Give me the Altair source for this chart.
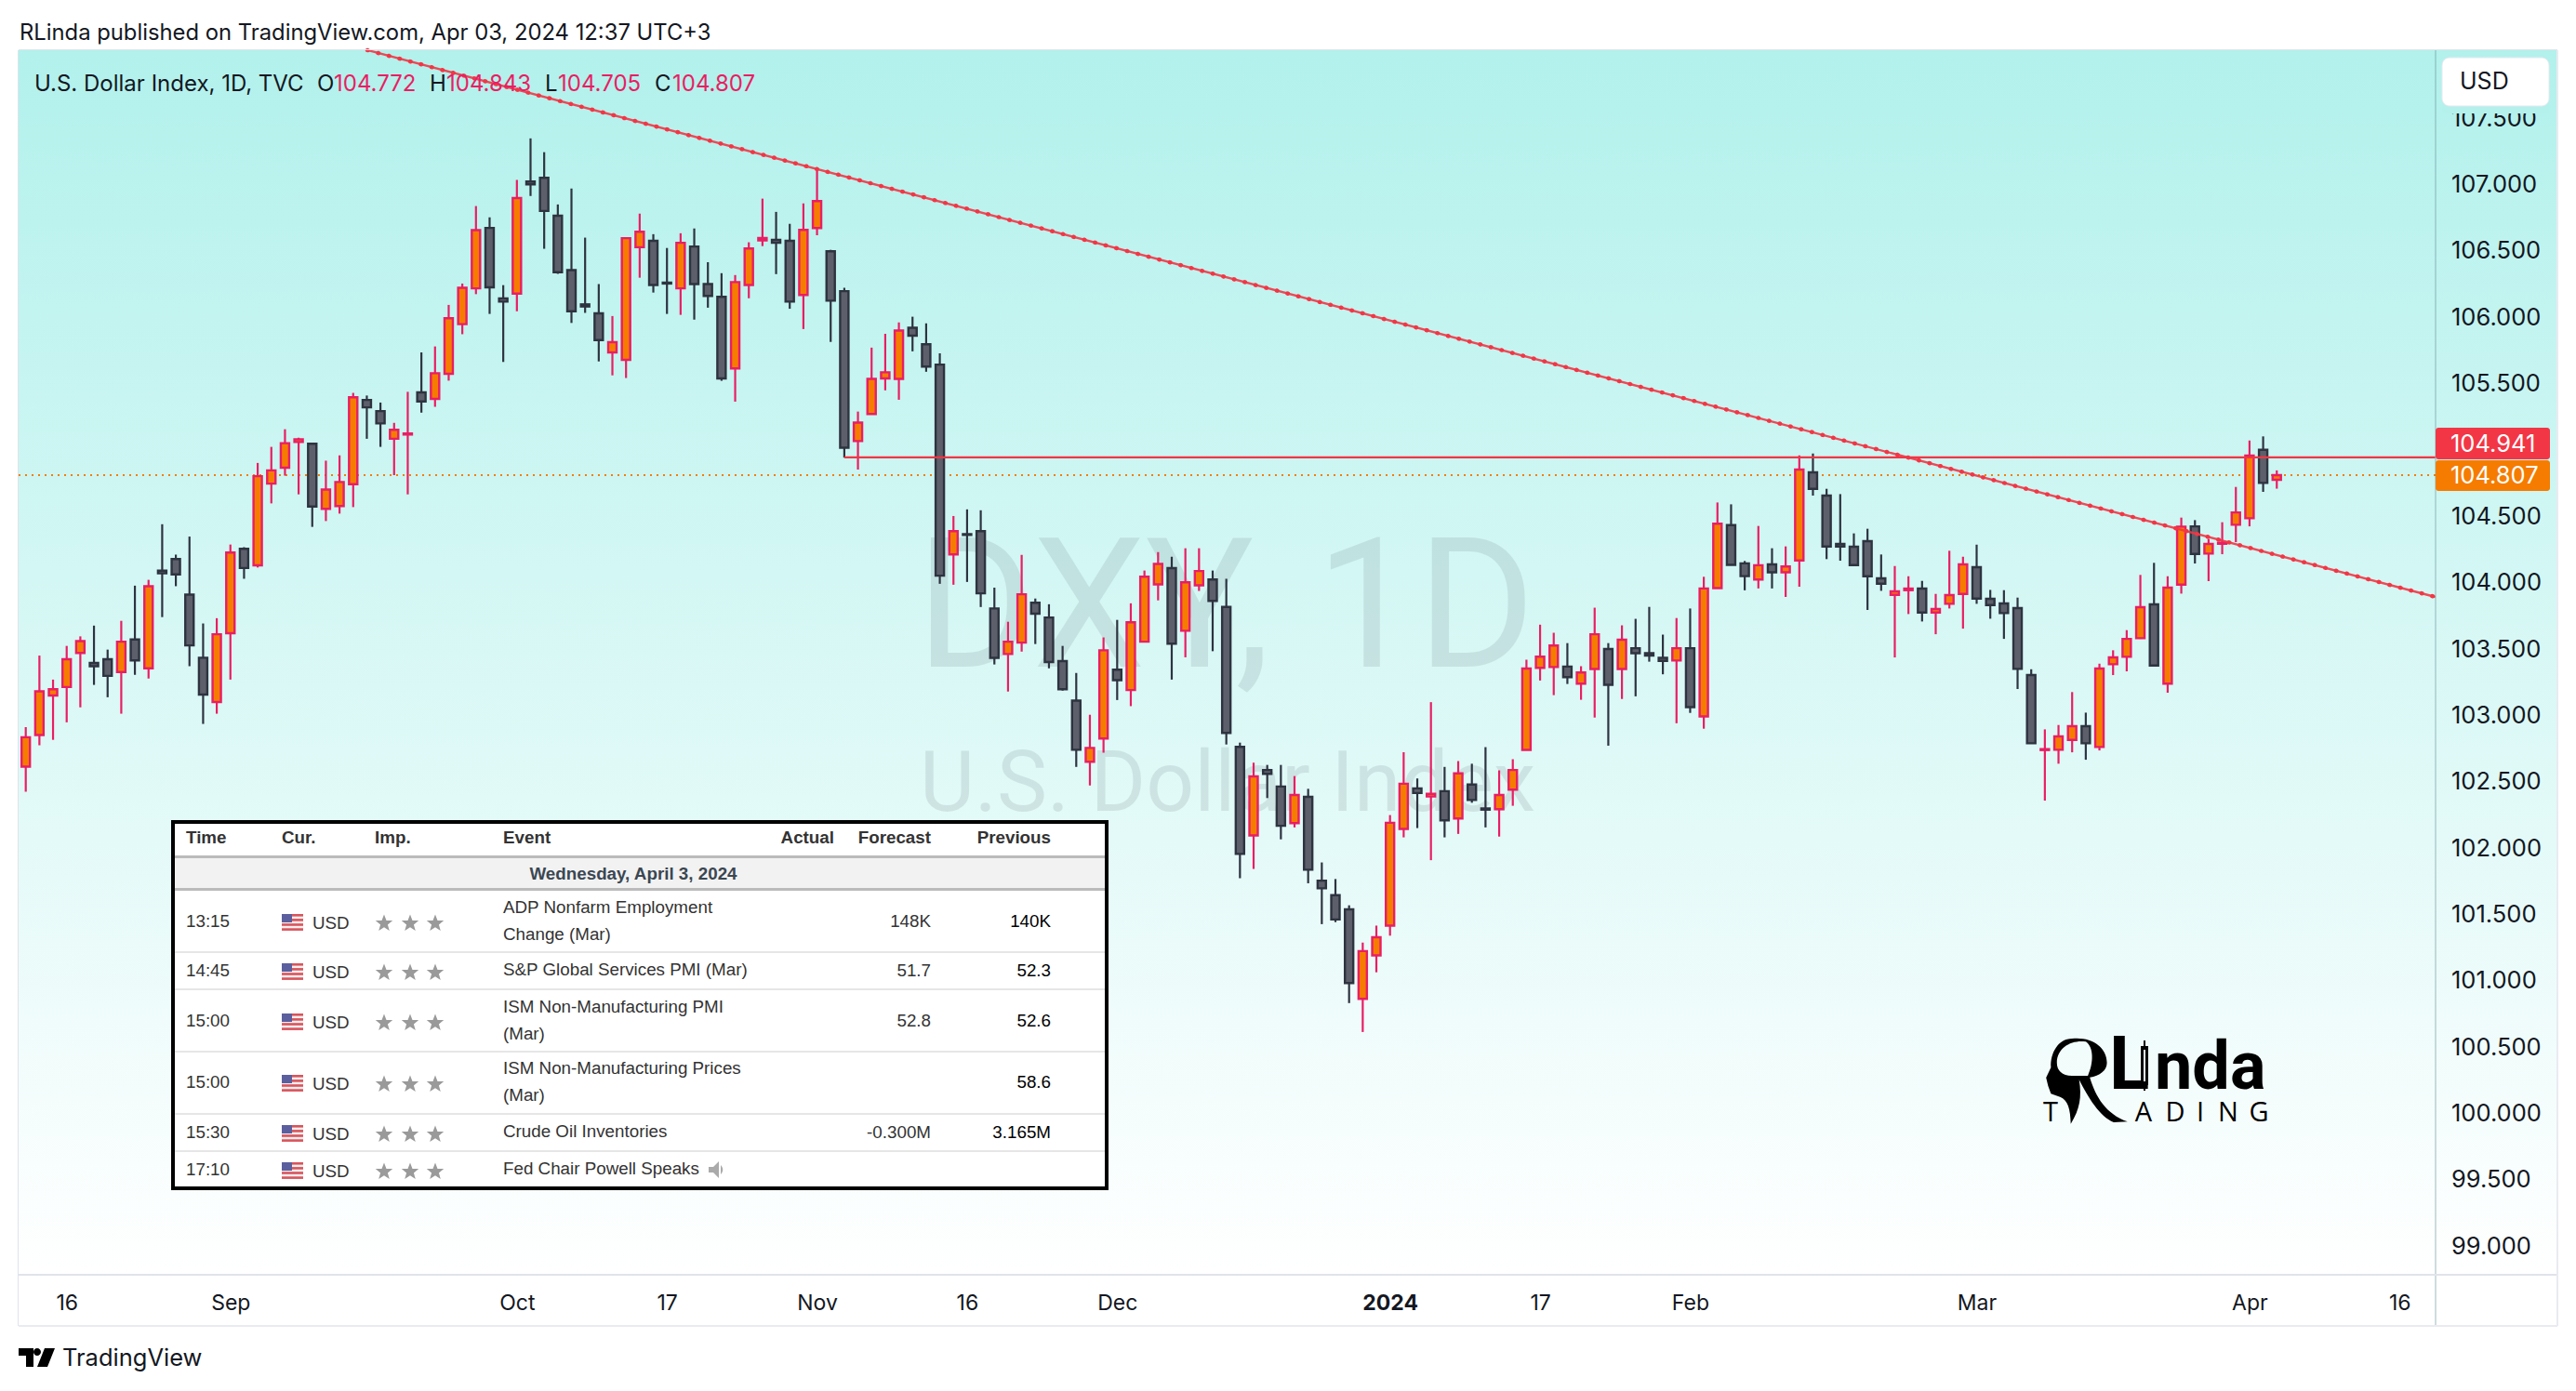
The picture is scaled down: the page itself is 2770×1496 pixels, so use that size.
import altair as alt
import pandas as pd

# ── Daily candles ────────────────────────────────────────────────────────────
opens = [102.610,102.848,103.146,103.210,103.467,103.391,103.419,103.323,103.568,103.351,
         104.087,104.175,103.906,103.431,103.097,103.616,104.252,104.127,104.743,104.863,
         105.057,105.044,104.553,104.574,104.739,105.374,105.290,105.081,105.113,105.431,
         105.382,105.571,105.945,106.215,106.670,106.139,106.175,107.020,107.048,106.762,
         106.352,106.094,106.026,105.732,105.676,106.525,106.573,106.258,106.215,106.530,
         106.247,106.151,105.611,106.240,106.576,106.580,106.573,106.165,106.669,106.494,
         106.194,105.064,105.268,105.536,105.532,105.918,105.793,105.640,104.210,104.363,
         104.385,103.802,103.459,103.545,103.845,103.734,103.405,103.108,102.647,102.822,
         103.341,103.187,103.552,103.984,104.106,103.634,103.977,104.020,103.814,102.759,
         102.091,102.585,102.460,102.184,102.382,101.751,101.641,101.534,100.860,101.188,
         101.412,102.141,102.446,102.385,102.425,102.219,102.475,102.295,102.289,102.437,
         102.736,103.355,103.361,103.364,103.236,103.346,103.497,103.346,103.503,103.465,
         103.430,103.410,103.503,102.989,103.956,104.430,104.142,104.020,104.134,104.075,
         104.164,104.828,104.653,104.288,104.267,104.309,104.029,103.905,103.940,103.952,
         103.772,103.837,103.912,104.113,103.875,103.840,103.805,103.300,102.735,102.737,
         102.812,102.915,102.758,103.382,103.438,103.578,103.833,103.235,103.982,104.421,
         104.216,104.290,104.433,104.482,104.998,104.772]
highs = [102.908,103.447,103.266,103.520,103.592,103.673,103.492,103.709,103.974,104.018,
         104.437,104.208,104.344,103.689,103.729,104.284,104.264,104.899,105.020,105.153,
         105.089,105.048,104.916,104.956,105.427,105.407,105.354,105.201,105.435,105.732,
         105.777,106.090,106.251,106.835,106.750,106.239,107.032,107.345,107.241,106.847,
         106.967,106.597,106.247,106.006,106.593,106.778,106.623,106.519,106.630,106.666,
         106.412,106.329,106.315,106.562,106.891,106.791,106.701,106.855,107.116,106.505,
         106.219,105.286,105.768,105.872,105.958,106.001,105.951,105.725,104.499,104.549,
         104.542,103.959,103.702,104.206,103.877,103.834,103.520,103.316,103.001,103.584,
         103.716,103.841,104.088,104.227,104.192,104.256,104.256,104.088,104.026,102.791,
         102.640,102.623,102.623,102.539,102.443,101.888,101.763,101.565,101.284,101.412,
         102.245,102.719,102.521,103.096,102.608,102.652,102.632,102.757,102.582,102.666,
         103.416,103.680,103.619,103.541,103.367,103.808,103.541,103.675,103.724,103.814,
         103.605,103.730,103.802,104.041,104.601,104.587,104.160,104.424,104.256,104.270,
         104.956,104.970,104.704,104.664,104.368,104.403,104.209,104.122,104.045,104.010,
         103.912,104.237,104.192,104.283,103.942,103.940,103.884,103.344,102.891,102.924,
         103.172,103.017,103.386,103.487,103.639,104.055,104.146,104.045,104.487,104.468,
         104.326,104.452,104.718,105.068,105.099,104.843]
lows = [102.421,102.771,102.812,102.944,103.057,103.226,103.133,103.009,103.302,103.274,
        103.737,103.970,103.367,102.932,103.009,103.266,104.026,104.111,104.594,104.803,
        104.662,104.417,104.461,104.517,104.566,105.081,105.020,104.807,104.662,105.278,
        105.322,105.519,105.869,106.171,106.022,105.660,106.042,106.911,106.513,106.324,
        105.954,106.030,105.664,105.559,105.539,106.295,106.183,106.022,106.015,105.979,
        106.069,105.518,105.361,106.140,106.533,106.322,106.061,105.908,106.615,105.811,
        104.939,104.849,105.268,105.446,105.375,105.740,105.586,103.988,103.981,104.002,
        103.813,103.380,103.176,103.477,103.534,103.351,103.183,102.608,102.468,102.715,
        103.112,103.066,103.548,103.863,103.266,103.434,103.934,103.480,102.777,101.769,
        101.839,102.373,102.062,102.152,101.731,101.423,101.438,100.828,100.610,101.060,
        101.336,102.077,102.147,101.905,102.077,102.103,102.338,102.152,102.083,102.315,
        102.736,103.259,103.149,103.233,103.114,102.980,102.768,103.120,103.140,103.401,
        103.306,102.937,103.015,102.896,103.956,104.131,103.939,103.953,103.953,103.889,
        103.966,104.653,104.174,104.162,104.125,103.791,103.935,103.433,103.760,103.704,
        103.608,103.802,103.650,103.837,103.725,103.573,103.195,102.786,102.354,102.632,
        102.718,102.662,102.732,103.300,103.328,103.573,103.372,103.167,103.914,104.141,
        104.008,104.211,104.302,104.421,104.681,104.705]
closes = [102.832,103.178,103.194,103.419,103.556,103.367,103.294,103.552,103.411,103.970,
          104.067,104.059,103.524,103.153,103.608,104.224,104.107,104.799,104.843,105.048,
          105.077,104.570,104.698,104.755,105.394,105.318,105.197,105.149,105.121,105.362,
          105.575,105.990,106.219,106.654,106.223,106.115,106.895,106.999,106.798,106.336,
          106.042,106.078,105.825,105.809,106.593,106.641,106.240,106.251,106.558,106.247,
          106.158,105.536,106.262,106.515,106.594,106.558,106.115,106.655,106.873,106.122,
          105.014,105.203,105.532,105.582,105.897,105.858,105.625,104.049,104.385,104.356,
          103.916,103.430,103.552,103.909,103.763,103.398,103.194,102.737,102.751,103.487,
          103.262,103.698,104.041,104.138,103.537,103.999,104.084,103.859,102.864,101.952,
          102.536,102.556,102.164,102.396,101.833,101.693,101.458,100.979,101.220,101.324,
          102.187,102.481,102.411,102.405,102.205,102.559,102.359,102.286,102.396,102.585,
          103.349,103.439,103.523,103.285,103.320,103.608,103.227,103.567,103.465,103.448,
          103.407,103.503,103.059,103.953,104.441,104.131,104.046,104.128,104.075,104.119,
          104.849,104.704,104.269,104.269,104.129,104.045,103.989,103.931,103.952,103.772,
          103.798,103.903,104.134,103.877,103.828,103.767,103.347,102.786,102.742,102.838,
          102.915,102.786,103.349,103.433,103.573,103.812,103.372,103.959,104.419,104.213,
          104.288,104.298,104.526,104.954,104.748,104.807]

tick_idx = [3, 15, 36, 47, 58, 69, 80, 100, 111, 122, 143, 163, 174]
tick_labels = ['16', 'Sep', 'Oct', '17', 'Nov', '16', 'Dec', '2024', '17', 'Feb', 'Mar', 'Apr', '16']
# 105.000 sits under the price tags in the reference, so it is not listed
price_ticks = [99.0, 99.5, 100.0, 100.5, 101.0, 101.5, 102.0, 102.5, 103.0, 103.5, 104.0,
               104.5, 105.5, 106.0, 106.5, 107.0, 107.5]

trend_idx = [25.04, 176.62]
trend_price = [108.01, 103.889]
level_idx = [60, 176.62]
level_price = [104.941, 104.941]
last_price = 104.807

# ── Calendar table ───────────────────────────────────────────────────────────
ev_times = ['13:15', '14:45', '15:00', '15:00', '15:30', '17:10']
ev_forecast = ['148K', '51.7', '52.8', '', '-0.300M', '']
ev_previous = ['140K', '52.3', '52.6', '58.6', '3.165M', '']
ev_lines = [['ADP Nonfarm Employment', 'Change (Mar)'], ['S&P Global Services PMI (Mar)'],
            ['ISM Non-Manufacturing PMI', '(Mar)'], ['ISM Non-Manufacturing Prices', '(Mar)'],
            ['Crude Oil Inventories'], ['Fed Chair Powell Speaks']]

# ── Layout, in page pixels ───────────────────────────────────────────────────
PLOT_L, PLOT_R, PLOT_T, PLOT_B = 20, 2619, 54, 1371
SIDE_R, FOOT_B = 2750, 1426
BAR_STEP, BAR_ZERO = 14.67, 27.7
PX_PER_UNIT = 142.7
INK = '#131722'
PINK = '#e91e63'
RED = '#f23645'
ORANGE = '#f57c00'
UI_FONT = 'Inter'


def to_i(x):
    return (x - BAR_ZERO) / BAR_STEP


def to_p(y):
    return last_price - (y - 511) / PX_PER_UNIT


# padding=0: bars on a continuous x would otherwise pull the scale in by 5px per side
x_scale = alt.Scale(domain=[to_i(PLOT_L), to_i(PLOT_R)], nice=False, zero=False, padding=0)
y_scale = alt.Scale(domain=[to_p(PLOT_B), to_p(PLOT_T)], nice=False, zero=False)
labels_js = str(tick_labels)
x_axis = alt.Axis(values=tick_idx, labelExpr=f"{labels_js}[indexof({tick_idx}, datum.value)]",
                  domain=False, ticks=False, grid=False, title=None, labelFont=UI_FONT,
                  labelFontSize=23, labelColor=INK, labelPadding=19, labelOverlap=False,
                  labelFlush=False,
                  labelFontWeight=alt.condition('datum.value == 100', alt.value('bold'), alt.value('normal')))


def xf(name):
    return alt.X(f'{name}:Q', scale=x_scale, axis=x_axis, title=None)


def yf(name):
    return alt.Y(f'{name}:Q', scale=y_scale, axis=None, title=None)


def texts(xs, ys, strings, **style):
    df = pd.DataFrame({'x': [to_i(v) for v in xs], 'y': [to_p(v) for v in ys], 't': strings})
    style.setdefault('baseline', 'middle')
    style.setdefault('align', 'left')
    style.setdefault('font', UI_FONT)
    return alt.Chart(df).mark_text(**style).encode(x=xf('x'), y=yf('y'), text='t:N')


def box(x0, x1, y0, y1, **style):
    df = pd.DataFrame({'x': [to_i(x0)], 'x1': [to_i(x1)], 'y': [to_p(y0)], 'y1': [to_p(y1)]})
    return alt.Chart(df).mark_rect(**style).encode(x=xf('x'), x2='x1:Q', y=yf('y'), y2='y1:Q')


def glyph(x, y, path, size=4, color='black', opacity=1):
    df = pd.DataFrame({'x': [to_i(x)], 'y': [to_p(y)]})
    return alt.Chart(df).mark_point(shape=path, size=size, filled=True, color=color,
                                    opacity=opacity, strokeWidth=0).encode(x=xf('x'), y=yf('y'))


candles = pd.DataFrame({'i': range(len(opens)), 'open': opens, 'high': highs, 'low': lows, 'close': closes})
candles['dir'] = ['up' if c >= o else 'down' for o, c in zip(opens, closes)]
candles['top'] = candles[['open', 'close']].max(axis=1)
candles['bot'] = candles[['open', 'close']].min(axis=1)

dirs = ['up', 'down']
wicks = alt.Chart(candles).mark_rule(strokeWidth=2.2).encode(
    x=xf('i'), y=yf('low'), y2='high:Q',
    color=alt.Color('dir:N', scale=alt.Scale(domain=dirs, range=[PINK, '#2e3340']), legend=None))
bodies = alt.Chart(candles).mark_bar(size=9, strokeWidth=2.4).encode(
    x=xf('i'), y=yf('top'), y2='bot:Q',
    fill=alt.Fill('dir:N', scale=alt.Scale(domain=dirs, range=[ORANGE, '#5d606b']), legend=None),
    stroke=alt.Stroke('dir:N', scale=alt.Scale(domain=dirs, range=[PINK, '#2e3340']), legend=None))

last_df = pd.DataFrame({'x': [to_i(PLOT_L), to_i(PLOT_R)], 'y': [last_price, last_price]})
last_line = alt.Chart(last_df).mark_line(color=ORANGE, strokeWidth=2, strokeDash=[2, 5]).encode(x=xf('x'), y=yf('y'))
level_df = pd.DataFrame({'x': level_idx, 'y': level_price})
level_line = alt.Chart(level_df).mark_line(color=RED, strokeWidth=2.4).encode(x=xf('x'), y=yf('y'))
trend_df = pd.DataFrame({'x': trend_idx, 'y': trend_price})
trend_line = alt.Chart(trend_df).mark_line(color=RED, strokeWidth=2.4, opacity=0.9).encode(x=xf('x'), y=yf('y'))
trend_dots = alt.Chart(trend_df).mark_line(color=RED, strokeWidth=4.5, strokeDash=[0.5, 11.4], strokeCap='round').encode(x=xf('x'), y=yf('y'))

backdrop = box(PLOT_L, SIDE_R, PLOT_T, PLOT_B, color=alt.LinearGradient(
    gradient='linear', x1=0, x2=0, y1=0, y2=1,
    stops=[alt.GradientStop(color='#b2f1ec', offset=0), alt.GradientStop(color='#ffffff', offset=1)]))

layers = [
    backdrop,
    texts([1318], [659], ['DXY, 1D'], fontSize=194, align='center', font='Roboto', color=INK, opacity=0.09),
    texts([1320], [845], ['U.S. Dollar Index'], fontSize=91, align='center', font='Roboto', color=INK, opacity=0.09),
    last_line, wicks, bodies, level_line, trend_line, trend_dots,
]

# ── Calendar table ───────────────────────────────────────────────────────────
T_L, T_R, T_T, T_B = 186, 1190, 884, 1278
row_lines = [1024, 1064, 1131, 1198, 1238]
row_mid = [991, 1044, 1098, 1164, 1218, 1258]
row_text = [[976, 1005], [1043], [1083, 1112], [1149, 1178], [1217], [1257]]

layers.append(box(T_L, T_R, T_T, T_B, color='white'))
layers.append(box(T_L, T_R, 921, 957, color='#f2f2f2'))
layers.append(box(T_L, T_R, 920, 923, color='#bbbbbb'))
layers.append(box(T_L, T_R, 955, 958, color='#bbbbbb'))
for ry in row_lines:
    layers.append(box(T_L, T_R, ry - 1, ry + 1, color='#e6e6e6'))
layers.append(box(T_L, T_R, T_T, T_B, fillOpacity=0, stroke='black', strokeWidth=4))

table_font = dict(font='Liberation Sans', fontSize=18.8)
layers.append(texts([200, 303, 403, 541], [901] * 4, ['Time', 'Cur.', 'Imp.', 'Event'],
                    fontWeight='bold', color='#333333', **table_font))
layers.append(texts([897, 1001, 1130], [901] * 3, ['Actual', 'Forecast', 'Previous'], align='right',
                    fontWeight='bold', color='#333333', **table_font))
layers.append(texts([681], [940], ['Wednesday, April 3, 2024'], align='center', fontWeight='bold',
                    color='#3b4752', **table_font))
layers.append(texts([200] * 6, row_mid, ev_times, color='#333333', **table_font))
layers.append(texts([336] * 6, [v + 2 for v in row_mid], ['USD'] * 6, color='#333333', **table_font))
layers.append(texts([541] * 9, [v for r in row_text for v in r], [s for r in ev_lines for s in r],
                    color='#333333', **table_font))
layers.append(texts([1001] * 6, row_mid, ev_forecast, align='right', color='#333333', **table_font))
layers.append(texts([1130] * 6, row_mid, ev_previous, align='right', color='#000000', **table_font))

STAR = ('M0,-9.5L2.5,-3.1L9.2,-2.9L3.9,1.4L5.8,8L0,4.2L-5.8,8L-3.9,1.4L-9.2,-2.9L-2.5,-3.1Z')
SPEAKER = 'M-8,-3L-3,-3L3,-9L3,9L-3,3L-8,3Z M5,-5C8,-2 8,2 5,5Z'
flag_rows = []
for ry in row_mid:
    fy = ry + 1
    flag_rows.append(dict(x=to_i(303), x1=to_i(326), y=to_p(fy - 9), y1=to_p(fy + 9), c='#f4eeee'))
    for s in range(4):
        sy = fy - 9 + s * 5.1
        flag_rows.append(dict(x=to_i(303), x1=to_i(326), y=to_p(sy), y1=to_p(sy + 2.6), c='#d9545c'))
    flag_rows.append(dict(x=to_i(303), x1=to_i(314), y=to_p(fy - 9), y1=to_p(fy), c='#5b5f9e'))
layers.append(alt.Chart(pd.DataFrame(flag_rows)).mark_rect().encode(
    x=xf('x'), x2='x1:Q', y=yf('y'), y2='y1:Q', color=alt.Color('c:N', scale=None)))
for ry in row_mid:
    for sx in [413, 441, 468]:
        layers.append(glyph(sx, ry + 2, STAR, color='#9a9a9a'))
layers.append(glyph(770, 1258, SPEAKER, color='#aaaaaa'))

# ── RLinda logo ──────────────────────────────────────────────────────────────
HEAD = ('M0,-46C21.4,-48.3 37.6,-36.7 37.6,-20C37.6,-11.7 29.9,-6 19.2,-4.3'
        'C25.6,16.7 36.3,35 59.8,43.3L44.9,44C29.9,38.3 17.1,16.7 7.7,-1.7'
        'C10.7,16.7 8.5,30 -1.3,45.7C-1.7,30 -4.3,20 -12.8,16.7L-22.6,13.3L-25.6,5L-27.8,-4L-22.6,-15'
        'C-23.5,-30 -15,-46 0,-46Z'
        'M15,-42.7C0,-45 -16.2,-36.7 -16.2,-20C-16.2,-11.7 -10.7,-6 0,-6L17.1,-6'
        'C23.5,-20 23.5,-36.7 15,-42.7Z')
layers.append(glyph(2228, 1163, HEAD))
layers.append(texts([2268], [1147], ['L'], fontSize=80, fontWeight='bold', font='Roboto', color='black'))
layers.append(box(2305, 2307, 1119, 1173, color='black'))
layers.append(box(2302, 2310, 1125, 1167, color='black'))
layers.append(box(2305, 2307, 1129, 1163, color='#eefcfb'))
layers.append(texts([2317], [1149], ['nda'], fontSize=72, fontWeight='bold', font='Roboto', color='black'))
layers.append(texts([2205, 2305, 2339, 2366, 2396, 2429], [1197] * 6, list('TADING'), align='center',
                    font='Open Sans', fontSize=29, color='black'))

# ── Price scale ──────────────────────────────────────────────────────────────
price_df = pd.DataFrame({'v': price_ticks, 't': [f'{v:.3f}' for v in price_ticks]})
layers.append(alt.Chart(price_df).mark_text(align='left', baseline='middle', font=UI_FONT, fontSize=25.5, color=INK, dy=1).encode(
    x=alt.value(2636 - PLOT_L), y=yf('v'), text='t:N'))
layers.append(box(PLOT_R - 1, PLOT_R + 1, PLOT_T, FOOT_B, color='#5f8a90', opacity=0.3))
layers.append(box(PLOT_L, SIDE_R, PLOT_B - 1, PLOT_B + 1, color='#e0e3eb'))
layers.append(box(PLOT_L - 1, PLOT_L, PLOT_T, FOOT_B, color='#e0e3eb'))
layers.append(box(SIDE_R - 1, SIDE_R + 1, PLOT_T, FOOT_B, color='#e9ebf0'))
layers.append(box(PLOT_L, SIDE_R, FOOT_B - 1, FOOT_B + 1, color='#e9ebf0'))
layers.append(box(PLOT_L, SIDE_R, PLOT_T - 1, PLOT_T, color='#e0e3eb'))
layers.append(box(PLOT_R, 2742, 460, 494, color=RED, cornerRadius=3))
layers.append(box(PLOT_R, 2742, 495, 528, color=ORANGE, cornerRadius=3))
layers.append(texts([2635], [478], ['104.941'], fontSize=25.5, color='white'))
layers.append(texts([2635], [512], ['104.807'], fontSize=25.5, color='white'))
# the button's halo cuts the top off the 107.500 label
layers.append(box(2626, 2741, 108, 122, color='#b5f1ec'))
layers.append(box(2626, 2741, 62, 114, color='white', cornerRadius=8, stroke='#e8e8ee', strokeWidth=1))
layers.append(texts([2645], [88], ['USD'], fontSize=25, color=INK))

# ── Header and footer text ───────────────────────────────────────────────────
layers.append(texts([21], [36], ['RLinda published on TradingView.com, Apr 03, 2024 12:37 UTC+3'], fontSize=23.8, color=INK))
layers.append(texts([37], [91], ['U.S. Dollar Index, 1D, TVC'], fontSize=24, color=INK))
layers.append(texts([341, 462, 586, 704], [91] * 4, ['O', 'H', 'L', 'C'], fontSize=24, color=INK))
layers.append(texts([359, 480, 600, 723], [91] * 4, ['104.772', '104.843', '104.705', '104.807'], fontSize=24, color=PINK))
TV_LOGO = 'M0,0H16V20H8V8H0Z M24,4A4,4 0 1 1 16,4A4,4 0 1 1 24,4Z M28,0H39L31,20H20Z'
layers.append(glyph(20, 1450, TV_LOGO))
layers.append(texts([67], [1461], ['TradingView'], fontSize=25.5, color=INK))

chart = alt.layer(*layers).properties(
    width=PLOT_R - PLOT_L, height=PLOT_B - PLOT_T,
    padding={'left': PLOT_L - 8, 'top': PLOT_T - 8, 'right': 2752 - PLOT_R, 'bottom': 1480 - PLOT_B},
    autosize=alt.AutoSizeParams(type='none'),
).configure_view(stroke=None)

chart.save('out.html', embed_options={'renderer': 'svg', 'actions': False})
